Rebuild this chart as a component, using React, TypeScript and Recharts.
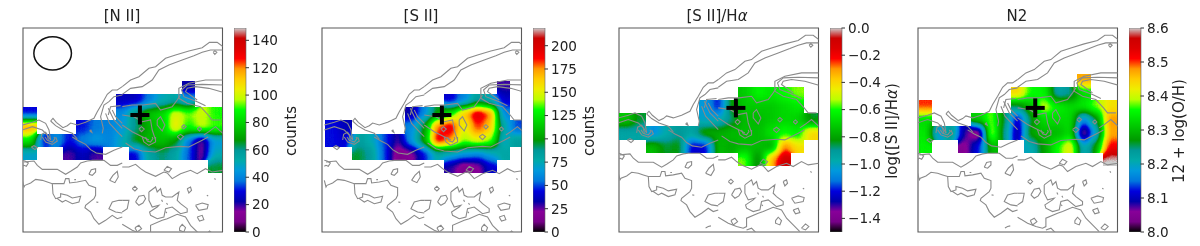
// App.tsx - four emission line maps with contours and colorbars
import React from 'react';
import { BarChart, Bar, ScatterChart, Scatter, XAxis, YAxis, ReferenceArea } from 'recharts';

type Pt = [number, number];
type Cell = number | null;
const _ = null;

// 21 evenly spaced nodes of the colour map
const CMAP_R = [0, .4667, .5333, 0, 0, 0, 0, 0, 0, 0, 0, 0, 0, .7333, .9333, 1, 1, 1, .8667, .8, .8];
const CMAP_G = [0, 0, 0, 0, 0, .4667, .6, .6667, .6, .6, .7333, .8667, 1, 1, .9333, .8, .6, 0, 0, 0, .8];
const CMAP_B = [0, .5333, .6, .6667, .8667, .8667, .8667, .6667, .6, 0, 0, 0, 0, 0, 0, 0, 0, 0, 0, 0, .8];

const NII_CELLS: Cell[][] = [
  [_, _, _, _, _, _, _, _, _, _, _, _, 22, _, _],
  [_, _, _, _, _, _, _, 25, 25, 38, 50, 55, 45, _, _],
  [30, _, _, _, _, _, _, 42, 62, 76, 82, 102, 94, 100, 90],
  [118, _, _, _, 30, 38, 40, 45, 60, 72, 80, 106, 88, 98, 92],
  [85, 30, 42, 30, 40, 45, 40, 50, 68, 74, 76, 68, 38, 15, 45],
  [48, _, _, 18, 25, 18, _, _, 28, 55, 62, 55, 35, 14, 50],
  [_, _, _, _, _, _, _, _, _, _, _, _, _, _, 65],
];
const SII_CELLS: Cell[][] = [
  [_, _, _, _, _, _, _, _, _, _, _, _, _, 28, _],
  [_, _, _, _, _, _, _, _, _, 40, 60, 85, 75, 40, _],
  [_, _, _, _, _, _, 32, 60, 100, 125, 165, 200, 178, 60, _],
  [45, 35, _, _, _, _, 60, 100, 180, 195, 150, 185, 165, 80, 50],
  [45, 40, 85, 75, 50, 28, 65, 105, 195, 175, 140, 150, 140, 70, 85],
  [_, _, 95, 85, 50, 15, 20, 45, 80, 75, 65, 60, 70, 80, _],
  [_, _, _, _, _, _, _, _, _, 30, 15, 20, 40, _, _],
];
const SIIHA_CELLS: Cell[][] = [
  [_, _, _, _, _, _, _, _, _, _, _, _, _, _, _],
  [_, _, _, _, _, _, _, _, _, -.72, -.62, -.65, -.6, -.55, _],
  [_, _, _, _, _, _, -1.05, -1.2, -.82, -.72, -.72, -.72, -.68, -.65, _],
  [-.72, -.85, _, _, _, _, -1.02, -1, -.88, -.74, -.75, -.72, -.68, -.7, -.85],
  [-.95, -.95, -1.08, -.98, -.9, -.95, -.78, -.78, -.75, -.74, -.74, -.66, -.6, -.64, -.4],
  [_, _, -.75, -.85, -.82, -1.22, -1.22, -.75, -.78, -.74, -.74, -.78, -.28, -.42, _],
  [_, _, _, _, _, _, _, _, _, -.55, -.85, -.34, -.08, _, _],
];
const N2_CELLS: Cell[][] = [
  [_, _, _, _, _, _, _, _, _, _, _, _, 8.47, _, _],
  [_, _, _, _, _, _, _, 8.44, 8.36, 8.35, 8.22, 8.24, 8.33, _, _],
  [8.5, _, _, _, _, _, _, 8.25, 8.3, 8.4, 8.35, 8.33, 8.34, 8.38, 8.43],
  [8.33, _, _, _, 8.32, 8.38, 8.26, 8.1, 8.26, 8.33, 8.33, 8.33, 8.16, 8.26, 8.48],
  [8.34, 8.18, 8.24, 8.08, 8.03, 8.4, 8.24, 8.08, 8.28, 8.3, 8.3, 8.33, 8.04, 8.2, 8.47],
  [8.35, _, _, 8.05, 8.12, 8.3, _, _, 8.2, 8.28, 8.36, 8.42, 8.2, 8.28, 8.52],
  [_, _, _, _, _, _, _, _, _, _, _, _, _, _, 8.62],
];

const NII_TICKS = [0, 20, 40, 60, 80, 100, 120, 140];
const SII_TICKS = [0, 25, 50, 75, 100, 125, 150, 175, 200];
const SIIHA_TICKS = [-1.4, -1.2, -1, -.8, -.6, -.4, -.2, 0];
const N2_TICKS = [8, 8.1, 8.2, 8.3, 8.4, 8.5, 8.6];

const NUCLEUS: Pt[] = [[420, 345]];
const BEAM: Pt[] = [[158, 160]];

// isophotes, traced sheet by sheet (each sheet has its own origin, see SHEETS)
const NW_OUTER: Pt[] = [[85, 258], [92, 250], [102, 262], [122, 278], [135, 272], [145, 264], [165, 270], [190, 262], [215, 250], [225, 230], [240, 205], [255, 178], [270, 165], [285, 165], [300, 155]];
const NW_INNER: Pt[] = [[300, 180], [275, 185], [260, 200], [245, 210], [235, 245], [243, 280], [240, 295]];
const NW_LOOP: Pt[] = [[85, 258], [100, 272], [122, 285], [150, 295], [165, 312]];
const NW_SHELF_A: Pt[] = [[0, 270], [30, 262], [50, 255], [70, 265], [80, 285], [85, 315]];
const NW_SHELF_B: Pt[] = [[0, 285], [30, 275], [60, 285], [75, 300], [78, 315]];
const NW_KNOT: Pt[] = [[55, 315], [58, 298], [70, 292], [85, 315]];
const NW_ARC_A: Pt[] = [[258, 240], [265, 215], [295, 212]];
const NW_ARC_B: Pt[] = [[250, 235], [262, 265], [290, 295], [300, 305]];
const NW_ARC_C: Pt[] = [[258, 220], [275, 255], [300, 280]];
const NW_ARC_D: Pt[] = [[270, 225], [280, 245], [300, 265]];
const NW_DOT: Pt[] = [[202, 288], [206, 285], [209, 292], [202, 288]];

const NE_OUTER: Pt[] = [[0, 155], [25, 135], [50, 125], [80, 100], [100, 95], [130, 70], [160, 60], [200, 48], [240, 38], [262, 22], [285, 22], [302, 35]];
const NE_INNER: Pt[] = [[0, 178], [25, 160], [60, 155], [90, 135], [110, 105], [140, 90], [180, 75], [215, 62], [240, 52], [265, 45], [302, 45]];
const NE_DOT: Pt[] = [[273, 52], [278, 47], [284, 52], [278, 58], [273, 52]];
const NE_ARC_A: Pt[] = [[302, 135], [250, 135], [200, 145], [170, 160], [170, 190], [195, 205], [235, 215], [258, 240], [270, 255], [295, 255]];
const NE_ARC_B: Pt[] = [[302, 150], [240, 148], [195, 150], [178, 165], [185, 185], [225, 200], [250, 212]];
const NE_ARC_C: Pt[] = [[302, 172], [260, 160], [220, 155], [195, 160], [190, 170], [225, 195]];
const NE_CORE: Pt[] = [[0, 215], [30, 210], [62, 210], [100, 205], [115, 225], [150, 215], [165, 195], [175, 180]];
const NE_OVAL: Pt[] = [[105, 255], [115, 245], [128, 270], [120, 288], [105, 270], [105, 255]];
const NE_DOT_B: Pt[] = [[178, 275], [185, 269], [192, 275], [185, 282], [178, 275]];
const NE_DOT_C: Pt[] = [[50, 282], [58, 275], [66, 282], [58, 290], [50, 282]];
const NE_DOT_D: Pt[] = [[225, 282], [232, 276], [238, 282], [232, 288], [225, 282]];
const NE_DOT_E: Pt[] = [[165, 305], [175, 298], [184, 305], [175, 314], [165, 305]];
const NE_RIDGE: Pt[] = [[0, 240], [35, 245], [60, 260], [85, 255], [90, 285], [100, 315]];
const NE_RIDGE_B: Pt[] = [[0, 270], [30, 290], [60, 305], [80, 315]];
const NE_EDGE: Pt[] = [[245, 300], [260, 290], [280, 275], [302, 295]];

const SW_DOT: Pt[] = [[27, 30], [35, 26], [45, 32], [38, 38], [27, 30]];
const SW_RIDGE: Pt[] = [[150, 0], [170, 12], [190, 22], [205, 38], [222, 48], [250, 52], [275, 40], [300, 30]];
const SW_LOOP_A: Pt[] = [[60, 0], [70, 15], [90, 22], [105, 12], [100, 0]];
const SW_LOOP_B: Pt[] = [[68, 0], [75, 10], [90, 15], [98, 5], [95, 0]];
const SW_EDGE_DOT: Pt[] = [[0, 70], [8, 72], [18, 78], [12, 88], [5, 85], [0, 88]];
const SW_LOW: Pt[] = [[5, 75], [35, 72], [45, 85], [60, 97], [80, 97], [105, 97], [130, 112], [145, 103], [165, 90], [175, 78], [195, 72], [210, 70], [245, 70], [265, 85], [285, 85], [300, 78]];
const SW_BLOB_A: Pt[] = [[200, 112], [207, 98], [220, 95], [220, 105], [210, 115], [200, 112]];
const SW_BLOB_B: Pt[] = [[262, 130], [272, 115], [285, 103], [288, 120], [278, 137], [262, 130]];
const SW_MAIN: Pt[] = [[0, 130], [5, 150], [8, 145], [25, 138], [40, 127], [60, 130], [75, 135], [90, 140], [105, 140], [125, 140], [130, 125], [140, 125], [142, 138], [165, 135], [190, 130], [200, 145], [220, 152], [220, 175], [215, 185], [190, 205], [188, 212], [205, 225], [215, 245], [230, 262], [250, 250], [270, 235], [285, 245], [300, 240]];
const SW_LOOP_C: Pt[] = [[90, 140], [92, 170], [100, 185], [115, 180], [115, 170], [135, 175], [150, 183], [165, 180], [175, 178], [170, 195], [150, 200], [130, 190], [120, 195], [105, 185]];
const SW_TOE: Pt[] = [[300, 190], [290, 190], [270, 195], [260, 215], [280, 225], [300, 228]];
const SW_SPECK_A: Pt[] = [[156, 128], [161, 128]];
const SW_SPECK_B: Pt[] = [[222, 195], [228, 196]];
const SW_SPECK_C: Pt[] = [[262, 294], [270, 290], [278, 288]];

const SE_BASE: Pt[] = [[10, 18], [35, 35], [60, 42], [100, 45], [130, 32], [175, 28], [200, 30], [240, 10], [258, 0]];
const SE_LOOP_A: Pt[] = [[60, 0], [65, 15], [80, 25], [100, 15], [100, 0]];
const SE_LOOP_B: Pt[] = [[70, 0], [75, 12], [85, 15], [92, 5], [90, 0]];
const SE_RIM: Pt[] = [[0, 90], [20, 90], [40, 82], [55, 95], [70, 105], [100, 118], [125, 105], [135, 108], [150, 125], [175, 110], [205, 100], [225, 110], [250, 95], [270, 105], [302, 100]];
const SE_NOTCH: Pt[] = [[125, 100], [135, 88], [148, 95], [140, 105], [125, 100]];
const SE_DOT_A: Pt[] = [[30, 155], [38, 148], [45, 155], [38, 162], [30, 155]];
const SE_BLOB_A: Pt[] = [[40, 195], [50, 178], [65, 175], [70, 185], [62, 198], [50, 205], [40, 195]];
const SE_CENTRE: Pt[] = [[80, 165], [100, 150], [105, 165], [115, 155], [120, 175], [130, 180], [150, 180], [170, 165], [165, 190], [175, 200], [195, 215], [195, 225], [175, 230], [150, 210], [130, 215], [125, 240], [105, 245], [85, 235], [82, 225], [105, 210], [110, 205], [90, 210], [80, 190], [80, 165]];
const SE_BLOB_B: Pt[] = [[220, 205], [240, 198], [258, 203], [255, 215], [230, 220], [220, 205]];
const SE_BLOB_C: Pt[] = [[225, 240], [240, 235], [245, 248], [232, 252], [225, 240]];
const SE_BLOB_D: Pt[] = [[195, 155], [205, 150], [208, 160], [200, 168], [195, 155]];
const SE_LOWER: Pt[] = [[0, 262], [30, 280], [55, 290], [75, 295], [85, 290], [85, 265], [120, 250], [135, 245], [165, 232], [190, 240], [205, 265], [225, 285], [245, 305]];
const SE_BLOB_E: Pt[] = [[38, 272], [50, 265], [58, 275], [45, 285], [38, 272]];
const SE_BLOB_F: Pt[] = [[172, 272], [180, 262], [190, 272], [185, 285], [172, 280], [172, 272]];
const SE_BLOB_G: Pt[] = [[250, 295], [262, 282], [272, 290], [262, 300], [250, 295]];
const SE_TOE: Pt[] = [[0, 190], [20, 190], [15, 215], [0, 225]];
const SE_FOOT: Pt[] = [[85, 300], [100, 295], [115, 310]];
const SE_SPECK_A: Pt[] = [[118, 188], [121, 194]];
const SE_SPECK_B: Pt[] = [[133, 198], [136, 203]];
const SE_SPECK_C: Pt[] = [[130, 224], [134, 228]];
const SE_SPECK_D: Pt[] = [[254, 175], [258, 177]];
const SE_SPECK_E: Pt[] = [[277, 124], [280, 128]];

// sheet origins in the shared map coordinates
const SHEETS: { dx: number; dy: number; lines: Pt[][] }[] = [
  { dx: 67, dy: 105, lines: [NW_OUTER, NW_INNER, NW_LOOP, NW_SHELF_A, NW_SHELF_B, NW_KNOT, NW_ARC_A, NW_ARC_B, NW_ARC_C, NW_ARC_D, NW_DOT] },
  { dx: 367, dy: 105, lines: [NE_OUTER, NE_INNER, NE_DOT, NE_ARC_A, NE_ARC_B, NE_ARC_C, NE_CORE, NE_OVAL, NE_DOT_B, NE_DOT_C, NE_DOT_D, NE_DOT_E, NE_RIDGE, NE_RIDGE_B, NE_EDGE] },
  { dx: 67, dy: 411, lines: [SW_DOT, SW_RIDGE, SW_LOOP_A, SW_LOOP_B, SW_EDGE_DOT, SW_LOW, SW_BLOB_A, SW_BLOB_B, SW_MAIN, SW_LOOP_C, SW_TOE, SW_SPECK_A, SW_SPECK_B, SW_SPECK_C] },
  { dx: 367, dy: 411, lines: [SE_BASE, SE_LOOP_A, SE_LOOP_B, SE_RIM, SE_NOTCH, SE_DOT_A, SE_BLOB_A, SE_CENTRE, SE_BLOB_B, SE_BLOB_C, SE_BLOB_D, SE_LOWER, SE_BLOB_E, SE_BLOB_F, SE_BLOB_G, SE_TOE, SE_FOOT, SE_SPECK_A, SE_SPECK_B, SE_SPECK_C, SE_SPECK_D, SE_SPECK_E] },
];
const ISOPHOTES = SHEETS.flatMap(s => s.lines.map(line => line.map(([x, y]) => ({ x: x + s.dx, y: y + s.dy }))));

const FONT = '"DejaVu Sans", sans-serif';
const M = 2;
const CB_M = 12;
const AX_W = 199.5;
const AX_H = 204;
const AX_TOP = 28;
const CELL = 39.64;
const GRID_X = 70;
const GRID_Y = 242;
const CELL_W = (CELL / 599) * AX_W;
const CELL_H = (CELL / 612) * AX_H;

const toPoints = (pts: Pt[]) => pts.map(([x, y]) => ({ x, y }));

const cellTable = (rows: Cell[][], vmin: number, vmax: number) =>
  rows.flatMap((row, r) =>
    row.flatMap((v, c) =>
      v === null
        ? []
        : [{
            x: GRID_X + CELL * (c + 0.5),
            y: GRID_Y + CELL * (r + 0.5),
            level: Math.round((Math.min(1, Math.max(0, (v - vmin) / (vmax - vmin)))) * 255),
          }]
    )
  );

const HeatCell = (p: any) => {
  const g = p.payload.level;
  return (
    <rect
      x={p.cx - CELL_W / 2}
      y={p.cy - CELL_H / 2}
      width={CELL_W + 0.3}
      height={CELL_H + 0.3}
      fill={`rgb(${g},${g},${g})`}
      shapeRendering="crispEdges"
    />
  );
};

const Cross = (p: any) => (
  <g fill="#000">
    <rect x={p.cx - 9.5} y={p.cy - 2} width={19} height={4} />
    <rect x={p.cx - 2} y={p.cy - 9.5} width={4} height={19} />
  </g>
);

const Beam = (p: any) => <ellipse cx={p.cx} cy={p.cy} rx={18.8} ry={16.6} fill="none" stroke="#111" strokeWidth={1.5} />;
const NoDot = () => <g />;

const Panel = ({ left, xFrom, yFrom, rows, vmin, vmax, beam }: any) => {
  const xDomain = [xFrom, xFrom + 599];
  const yDomain = [yFrom, yFrom + 612];
  return (
    <div style={{ position: 'absolute', left: left - M, top: AX_TOP - M }}>
      <ScatterChart width={AX_W + 2 * M} height={AX_H + 2 * M} margin={{ top: M, right: M, bottom: M, left: M }}>
        <XAxis type="number" dataKey="x" domain={xDomain} allowDataOverflow hide />
        <YAxis type="number" dataKey="y" domain={yDomain} allowDataOverflow reversed hide />
        <Scatter className="heatmap" data={cellTable(rows, vmin, vmax)} shape={HeatCell} isAnimationActive={false} />
        {ISOPHOTES.map((pts, i) => (
          <Scatter
            key={i}
            data={pts}
            line={{ stroke: '#8a8a8a', strokeWidth: 1.1 }}
            shape={NoDot}
            isAnimationActive={false}
          />
        ))}
        {beam && <Scatter data={toPoints(BEAM)} shape={Beam} isAnimationActive={false} />}
        <Scatter data={toPoints(NUCLEUS)} shape={Cross} isAnimationActive={false} />
        <ReferenceArea x1={xDomain[0]} x2={xDomain[1]} y1={yDomain[0]} y2={yDomain[1]} fill="none" fillOpacity={0} stroke="#5a5a5a" strokeWidth={1.1} />
      </ScatterChart>
    </div>
  );
};

const fmt = (v: number, digits: number) => {
  const s = Math.abs(v).toFixed(digits);
  return v < -1e-9 ? `\u2212${s}` : s;
};

const Colorbar = ({ left, vmin, vmax, ticks, digits }: any) => (
  <div style={{ position: 'absolute', left, top: AX_TOP - CB_M }}>
    <BarChart
      width={70}
      height={AX_H + 2 * CB_M}
      data={[{ name: 'scale', range: [vmin, vmax] }]}
      margin={{ top: CB_M, right: 0, bottom: CB_M, left: 0 }}
      barCategoryGap={0}
    >
      <XAxis dataKey="name" hide />
      <YAxis
        orientation="right"
        type="number"
        domain={[vmin, vmax]}
        ticks={ticks}
        allowDataOverflow
        width={58.5}
        axisLine={false}
        tickSize={3.5}
        tickMargin={3}
        tickLine={{ stroke: '#333', strokeWidth: 1 }}
        tick={{ fontSize: 13.6, fontFamily: FONT, fill: '#222' }}
        tickFormatter={(v: number) => fmt(v, digits)}
        interval={0}
      />
      <Bar dataKey="range" fill="url(#cmapRamp)" stroke="#666" strokeWidth={0.6} isAnimationActive={false} />
    </BarChart>
  </div>
);

const Title = ({ x, children }: any) => (
  <div style={{ position: 'absolute', left: x - 100, top: 7, width: 200, textAlign: 'center', fontFamily: FONT, fontSize: 15, lineHeight: '18px', color: '#222' }}>
    {children}
  </div>
);

const SideLabel = ({ x, children }: any) => (
  <div style={{ position: 'absolute', left: x - 100, top: 121, width: 200, height: 20, lineHeight: '20px', textAlign: 'center', transform: 'rotate(-90deg)', fontFamily: FONT, fontSize: 15, color: '#222', whiteSpace: 'nowrap' }}>
    {children}
  </div>
);

export default function App() {
  const table = (vals: number[]) => vals.join(' ');
  return (
    <div style={{ position: 'absolute', left: 0, top: 0, width: 1200, height: 246, background: '#fff', overflow: 'hidden', filter: 'blur(0.4px)' }}>
      <style>{`.heatmap { filter: url(#levelsToColor); }`}</style>
      <svg width={0} height={0} style={{ position: 'absolute' }}>
        <defs>
          <filter id="levelsToColor" filterUnits="userSpaceOnUse" x={-10} y={-10} width={260} height={260} colorInterpolationFilters="sRGB">
            <feGaussianBlur in="SourceGraphic" stdDeviation={4} result="smooth" />
            <feColorMatrix in="smooth" type="matrix" values="1 0 0 0 0 0 1 0 0 0 0 0 1 0 0 0 0 0 0 1" result="opaque" />
            <feComponentTransfer in="opaque" result="mapped">
              <feFuncR type="table" tableValues={table(CMAP_R)} />
              <feFuncG type="table" tableValues={table(CMAP_G)} />
              <feFuncB type="table" tableValues={table(CMAP_B)} />
            </feComponentTransfer>
            <feComposite in="mapped" in2="SourceAlpha" operator="in" />
          </filter>
          <linearGradient id="cmapRamp" x1="0" y1="1" x2="0" y2="0">
            {CMAP_R.map((r, i) => (
              <stop
                key={i}
                offset={i / 20}
                stopColor={`rgb(${Math.round(r * 255)},${Math.round(CMAP_G[i] * 255)},${Math.round(CMAP_B[i] * 255)})`}
              />
            ))}
          </linearGradient>
        </defs>
      </svg>

      <Title x={122}>[N II]</Title>
      <Title x={421}>[S II]</Title>
      <Title x={717}>[S II]/H<i>α</i></Title>
      <Title x={1017}>N2</Title>

      <Panel left={23} xFrom={69} yFrom={84} rows={NII_CELLS} vmin={0} vmax={149} beam />
      <Panel left={322.3} xFrom={60} yFrom={84} rows={SII_CELLS} vmin={0} vmax={219} />
      <Panel left={618.7} xFrom={69} yFrom={105.3} rows={SIIHA_CELLS} vmin={-1.5} vmax={0} />
      <Panel left={918} xFrom={68} yFrom={105.3} rows={N2_CELLS} vmin={8} vmax={8.6} />

      <Colorbar left={234.3} vmin={0} vmax={149} ticks={NII_TICKS} digits={0} />
      <Colorbar left={533.3} vmin={0} vmax={219} ticks={SII_TICKS} digits={0} />
      <Colorbar left={830} vmin={-1.5} vmax={0} ticks={SIIHA_TICKS} digits={1} />
      <Colorbar left={1129.3} vmin={8} vmax={8.6} ticks={N2_TICKS} digits={1} />

      <SideLabel x={291}>counts</SideLabel>
      <SideLabel x={589}>counts</SideLabel>
      <SideLabel x={892}>log([S II]/H<i>α</i>)</SideLabel>
      <SideLabel x={1179}>12 + log(O/H)</SideLabel>
    </div>
  );
}
